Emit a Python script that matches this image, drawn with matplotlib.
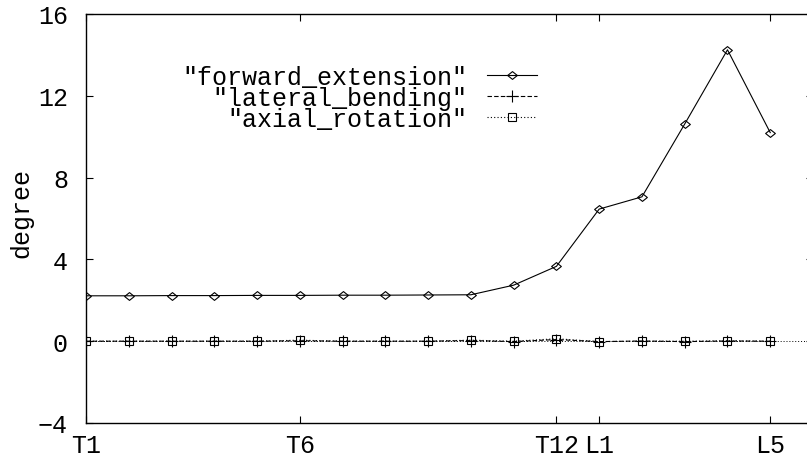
import matplotlib
matplotlib.use("Agg")
import matplotlib.pyplot as plt
from matplotlib.path import Path

# vertebrae (T1..T12, L1..L5) at positions 1..17
vertebrae = ["T1", "T2", "T3", "T4", "T5", "T6", "T7", "T8", "T9", "T10",
             "T11", "T12", "L1", "L2", "L3", "L4", "L5"]
posicoes = list(range(1, len(vertebrae) + 1))

forward_extension = [2.22, 2.22, 2.23, 2.23, 2.24, 2.24, 2.25, 2.25, 2.26, 2.27,
                     2.74, 3.66, 6.46, 7.06, 10.62, 14.25, 10.20]
lateral_bending = [0.0, 0.0, 0.0, 0.0, 0.0, 0.02, 0.0, 0.0, 0.0, 0.03,
                   -0.02, 0.08, -0.02, 0.01, -0.02, 0.01, 0.0]
axial_rotation = [0.0, 0.0, 0.0, 0.0, 0.0, 0.05, 0.0, 0.0, 0.0, 0.05,
                  0.0, 0.12, -0.02, 0.0, 0.0, 0.02, 0.0]

xticks_labels = ["T1", "T6", "T12", "L1", "L5"]
yticks = [-4, 0, 4, 8, 12, 16]

plt.rcParams['font.family'] = ['Liberation Mono', 'DejaVu Sans Mono']
fs = 18

# losango aberto estilo gnuplot (um pouco achatado)
losango = Path([(-1, 0), (0, 0.8), (1, 0), (0, -0.8), (-1, 0)],
               [Path.MOVETO, Path.LINETO, Path.LINETO, Path.LINETO, Path.CLOSEPOLY])

fig = plt.figure(figsize=(8.07, 4.6), dpi=100)
ax = fig.add_axes([86 / 807, 36 / 460, 727 / 807, 409 / 460])

# eixo zero pontilhado, na largura toda
ax.axhline(0, color='black', linestyle=(0, (1, 2)), linewidth=0.7, zorder=1)

ax.plot(posicoes, forward_extension, color='black', linewidth=0.8,
        marker=losango, markersize=7, markerfacecolor='none',
        markeredgewidth=0.8, label='"forward_extension"')
ax.plot(posicoes, lateral_bending, color='black', linewidth=0.8,
        linestyle=(0, (4, 2)), marker='+', markersize=8,
        markeredgewidth=0.8, label='"lateral_bending"')
ax.plot(posicoes, axial_rotation, color='black', linewidth=0.8,
        linestyle=(0, (1, 2)), marker='s', markersize=6, markerfacecolor='none',
        markeredgewidth=0.8, label='"axial_rotation"')

ax.set_xlim(1, 18)
ax.set_ylim(-4, 16)
ax.set_xticks([posicoes[vertebrae.index(v)] for v in xticks_labels])
ax.set_xticklabels(xticks_labels)
ax.set_yticks(yticks)
ax.set_yticklabels([str(v).replace('-', '\u2212') for v in yticks])

ax.tick_params(direction='in', length=5, width=0.8, top=True, right=True,
               labelsize=fs, color='black')
ax.tick_params(axis='x', pad=7)
ax.tick_params(axis='y', pad=13)
for s in ax.spines.values():
    s.set_linewidth(1.0)

fig.text(21 / 807, 1 - 213 / 460, 'degree', rotation=90, ha='center',
         va='center', fontsize=fs)

leg = ax.legend(loc='upper right', bbox_to_anchor=(537 / 807, 1 - 66 / 460),
                bbox_transform=fig.transFigure, frameon=False, markerfirst=False,
                fontsize=fs, handlelength=2.0, handletextpad=0.8,
                labelspacing=-0.12, borderpad=0, borderaxespad=0, numpoints=1)

fig.savefig('out.png', dpi=100)
